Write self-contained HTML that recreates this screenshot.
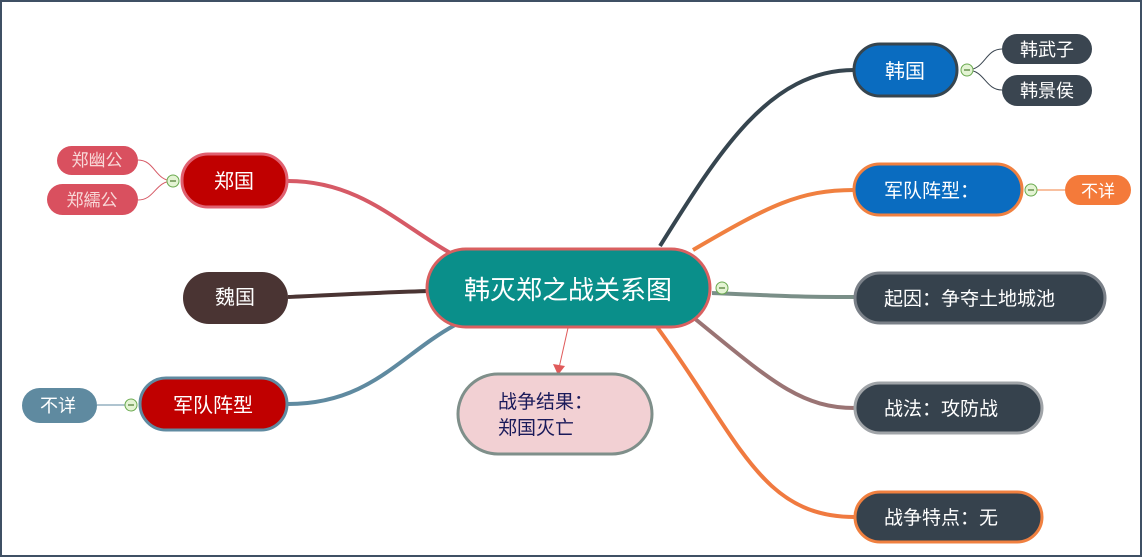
<!DOCTYPE html>
<html><head><meta charset="utf-8"><style>
html,body{margin:0;padding:0;background:#fff;}
svg{display:block;}
text{font-family:"Liberation Sans","Noto Sans CJK SC",sans-serif;}
</style></head><body>
<svg width="1142" height="557" viewBox="0 0 1142 557" xmlns="http://www.w3.org/2000/svg">
<rect x="1" y="1" width="1140" height="555" fill="#fff" stroke="#3f5064" stroke-width="2"/>
<defs><marker id="ar" markerWidth="10" markerHeight="10" refX="5" refY="8" orient="auto-start-reverse" markerUnits="userSpaceOnUse"><path d="M0,0 L10,0 L5,9 Z" fill="#e05a5a" transform="rotate(0)"/></marker></defs>
<!-- connectors -->
<g fill="none" stroke-width="4">
<path d="M288,181 C360,181 400,225 452,254" stroke="#d65a66"/>
<path d="M288,297 C350,294 390,292 430,291" stroke="#4a3433"/>
<path d="M288,404 C370,404 400,355 455,325" stroke="#5f8aa0"/>
<path d="M660,246 C720,150 770,70 854,70" stroke="#36454f"/>
<path d="M693,250 C770,205 800,190 854,190" stroke="#f08040"/>
<path d="M712,293 C780,296 800,297 855,297" stroke="#7a8f88"/>
<path d="M694,318 C770,380 800,408 855,408" stroke="#9a7474"/>
<path d="M657,327 C740,440 760,517 855,517" stroke="#f07a40"/>
</g>
<g fill="none" stroke-width="1">
<path d="M173,181 C155,181 155,160 138,160" stroke="#d65a66"/>
<path d="M173,181 C155,181 155,200 138,200" stroke="#d65a66"/>
<path d="M131,405 L97,405" stroke="#5f8aa0"/>
<path d="M967,70 C985,70 985,49 1002,49" stroke="#3a4550"/>
<path d="M967,70 C985,70 985,90 1002,90" stroke="#3a4550"/>
<path d="M1031,190 L1065,190" stroke="#f08040"/>
</g>
<path d="M568,328 L559,368" stroke="#e05a5a" stroke-width="1" fill="none"/>
<path d="M553,364 L558,375 L565,366 Z" fill="#e05a5a"/>
<!-- central -->
<rect x="427" y="249" width="283" height="78" rx="39" fill="#0a8f8a" stroke="#d96060" stroke-width="3"/>
<text x="568" y="299" font-size="26" fill="#fff" text-anchor="middle">韩灭郑之战关系图</text>
<!-- left -->
<rect x="182" y="154" width="105" height="53" rx="26" fill="#c00000" stroke="#e06070" stroke-width="3"/>
<text x="234" y="188" font-size="20" fill="#fff" text-anchor="middle">郑国</text>
<rect x="57" y="146" width="81" height="29" rx="14.5" fill="#d9505f"/>
<text x="97" y="166" font-size="17" fill="#f8d8d8" text-anchor="middle">郑幽公</text>
<rect x="47" y="184" width="91" height="31" rx="15.5" fill="#d9505f"/>
<text x="92" y="206" font-size="17" fill="#f8d8d8" text-anchor="middle">郑繻公</text>
<rect x="183" y="272" width="105" height="52" rx="26" fill="#4a3433"/>
<text x="235" y="304" font-size="20" fill="#fff" text-anchor="middle">魏国</text>
<rect x="140" y="378" width="147" height="52" rx="26" fill="#c00000" stroke="#5f8aa0" stroke-width="3"/>
<text x="213" y="412" font-size="20" fill="#fff" text-anchor="middle">军队阵型</text>
<rect x="22" y="388" width="75" height="35" rx="17.5" fill="#5f8aa0"/>
<text x="58" y="412" font-size="18" fill="#fff" text-anchor="middle">不详</text>
<!-- result -->
<rect x="458" y="374" width="194" height="80" rx="40" fill="#f2d0d3" stroke="#7f8f8a" stroke-width="3"/>
<text x="498" y="408" font-size="19" fill="#1a1a5a">战争结果：</text>
<text x="498" y="434" font-size="19" fill="#1a1a5a">郑国灭亡</text>
<!-- right -->
<rect x="854" y="44" width="103" height="52" rx="26" fill="#0a6cc0" stroke="#36454f" stroke-width="3"/>
<text x="905" y="78" font-size="20" fill="#fff" text-anchor="middle">韩国</text>
<rect x="1002" y="34" width="90" height="30" rx="15" fill="#3a4550"/>
<text x="1047" y="56" font-size="18" fill="#fff" text-anchor="middle">韩武子</text>
<rect x="1002" y="75" width="90" height="31" rx="15.5" fill="#3a4550"/>
<text x="1047" y="97" font-size="18" fill="#fff" text-anchor="middle">韩景侯</text>
<rect x="854" y="164" width="168" height="51" rx="25.5" fill="#0a6cc0" stroke="#f08040" stroke-width="3"/>
<text x="884" y="197" font-size="19" fill="#fff">军队阵型：</text>
<rect x="1065" y="175" width="66" height="30" rx="15" fill="#f47a3a"/>
<text x="1098" y="197" font-size="17" fill="#fff" text-anchor="middle">不详</text>
<rect x="855" y="273" width="250" height="50" rx="25" fill="#36424d" stroke="#7a8088" stroke-width="3"/>
<text x="884" y="305" font-size="19" fill="#fff">起因：争夺土地城池</text>
<rect x="855" y="383" width="187" height="50" rx="25" fill="#36424d" stroke="#a0a4a8" stroke-width="3"/>
<text x="884" y="415" font-size="19" fill="#fff">战法：攻防战</text>
<rect x="855" y="492" width="187" height="50" rx="25" fill="#36424d" stroke="#f08040" stroke-width="3"/>
<text x="884" y="524" font-size="19" fill="#fff">战争特点：无</text>
<!-- collapse circles -->
<g fill="#e4f4d4" stroke="#6aaa50" stroke-width="1">
<circle cx="173" cy="181" r="6"/><circle cx="131" cy="405" r="6"/>
<circle cx="967" cy="70" r="6"/><circle cx="1031" cy="190" r="6"/><circle cx="722" cy="288" r="6"/>
</g>
<g stroke="#4a7a30" stroke-width="1.2">
<line x1="170" y1="181" x2="176" y2="181"/><line x1="128" y1="405" x2="134" y2="405"/>
<line x1="964" y1="70" x2="970" y2="70"/><line x1="1028" y1="190" x2="1034" y2="190"/><line x1="719" y1="288" x2="725" y2="288"/>
</g>
</svg>
</body></html>
